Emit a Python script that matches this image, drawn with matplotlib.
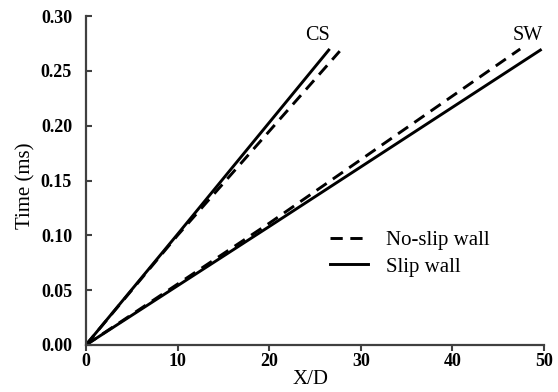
import matplotlib.pyplot as plt

plt.rcParams['font.family'] = ['Liberation Serif', 'DejaVu Serif']

# Wave front trajectories (X/D vs time in ms)
cs_slip_x = [0, 10, 26.5]
cs_slip_t = [0, 0.101, 0.269]
cs_noslip_x = [0, 10, 27.7]
cs_noslip_t = [0, 0.100, 0.268]

sw_slip_x = [0, 20, 49.6]
sw_slip_t = [0, 0.108, 0.269]
sw_noslip_x = [0, 20, 47.4]
sw_noslip_t = [0, 0.111, 0.270]

xticks = [0, 10, 20, 30, 40, 50]
yticks = [0.00, 0.05, 0.10, 0.15, 0.20, 0.25, 0.30]

fig = plt.figure(figsize=(5.58, 3.92), dpi=100)
ax = fig.add_axes([0.154, 0.120, 0.821, 0.839])

dash = (0, (4.2, 2.6))
lw = 2.1
ax.plot(cs_noslip_x, cs_noslip_t, color='black', lw=lw, linestyle=dash, label='No-slip wall')
ax.plot(cs_slip_x, cs_slip_t, color='black', lw=lw, label='Slip wall')
ax.plot(sw_noslip_x, sw_noslip_t, color='black', lw=lw, linestyle=dash)
ax.plot(sw_slip_x, sw_slip_t, color='black', lw=lw)

ax.text(25.3, 0.282, 'CS', fontsize=14.5, ha='center', va='center')
ax.text(48.2, 0.282, 'SW', fontsize=14.5, ha='center', va='center')

ax.set_xlim(0, 50)
ax.set_ylim(0, 0.30)
ax.set_xticks(xticks)
ax.set_yticks(yticks)
ax.set_xticklabels([str(v) for v in xticks], fontweight='bold', fontsize=13)
ax.set_yticklabels(['%.2f' % v for v in yticks], fontweight='bold', fontsize=13)
ax.tick_params(axis='x', direction='out', length=4, width=1.5, color='#404040', pad=2)
ax.tick_params(axis='y', direction='in', length=4, width=1.5, color='#404040', pad=10)

for side in ['top', 'right']:
    ax.spines[side].set_visible(False)
for side in ['left', 'bottom']:
    ax.spines[side].set_color('#404040')
    ax.spines[side].set_linewidth(1.6)

ax.set_xlabel('X/D', fontsize=15)
ax.set_ylabel('Time (ms)', fontsize=15)
ax.xaxis.set_label_coords(0.491, -0.075)
ax.yaxis.set_label_coords(-0.11, 0.483)

ax.legend(loc='center left', bbox_to_anchor=(0.533, 0.278), frameon=False,
          fontsize=15, handlelength=1.8, handletextpad=0.9, labelspacing=0.35,
          borderpad=0, borderaxespad=0)

fig.savefig('out.png', dpi=100)
